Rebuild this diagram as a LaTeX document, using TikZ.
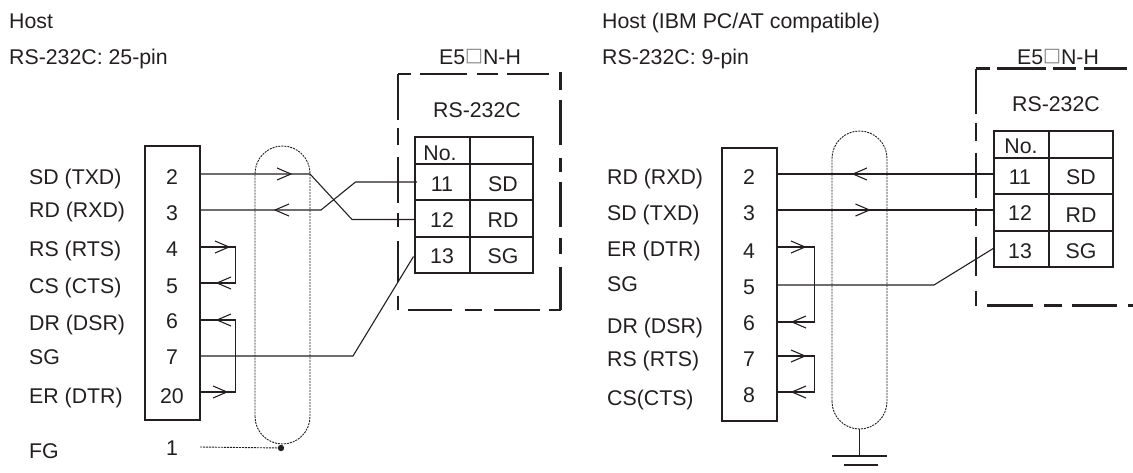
\documentclass[tikz,border=0pt]{standalone}
\usepackage{fontspec}
\setmainfont{Liberation Sans}
\newfontfamily\boxfont{DejaVu Sans}
\usepackage{tikz}
\definecolor{ink}{HTML}{231F20}
\newcommand{\sqmark}{{\color{gray}\boxfont\fontsize{19}{19}\selectfont\raisebox{0.12em}{\char"25A1}}}
\tikzset{
	lbl/.style = {anchor=base west, inner sep=0pt},
	pin/.style = {anchor=base, inner sep=0pt},
	hostbox/.style = {draw, line width=1.8pt, inner sep=0pt, minimum width=55pt},
	cellbox/.style = {line width=1.9pt},
	wire/.style = {line width=1.1pt},
	shield/.style = {line width=0.9pt, dash pattern=on 2pt off 1pt},
	casing/.style = {line width=2.1pt}
}

\begin{document}
\begin{tikzpicture}[x=1pt, y=-1pt, color=ink, font=\fontsize{21.3}{25}\selectfont]
	\useasboundingbox (0,0) rectangle (1133,472);

	% left: 25-pin
	\node [lbl] (hostA) at (9,28) {Host};
	\node [lbl] (typeA) at (9,64) {RS-232C: 25-pin};
	\node [pin] (modelA) at (480,64) {E5\sqmark N-H};
	\node [pin] (portA) at (477,117) {RS-232C};

	\draw [casing, dash pattern=on 46pt off 8pt on 17pt off 12pt on 46pt off 10pt on 14pt off 14pt on 41pt off 14pt on 14pt off 9pt] (398,74) -- (398,310);
	\draw [casing, dash pattern=on 13pt off 9pt on 47pt off 10pt on 21pt off 9pt on 42pt off 20pt] (398,74) -- (560.5,74);
	\draw [casing, dash pattern=on 44pt off 13pt on 17pt off 12pt on 46pt off 9pt on 12pt off 1pt] (408,310) -- (561,310);
	\draw [casing, dash pattern=on 43pt off 13pt on 16pt off 11pt on 45pt off 10pt on 14pt off 13pt on 45pt off 10pt on 18pt off 1pt] (560.5,310) -- (560.5,72);

	\node [hostbox, minimum height=274pt] (boxA) at (172.5,283) {};
	\foreach \num/\txt/\y in {2/SD (TXD)/184,3/RD (RXD)/217,4/RS (RTS)/256,5/CS (CTS)/293,6/DR (DSR)/330,7/SG/364,20/ER (DTR)/403,1/FG/458}
		\node [lbl] (nameA\num) at (29,\y) {\txt};
	\foreach \num/\y in {2/184,3/220,4/256,5/293,6/328,7/364,20/403,1/455}
		\node [pin] (pinA\num) at (172,\y) {\num};
	\foreach \num/\y in {2/174,3/210,4/247,5/283,6/320,7/356,20/392,1/447}
		\coordinate (wireA\num) at (200,\y);

	\draw [cellbox] (415,137) rectangle (533,273);
	\draw [cellbox] (470,137) -- (470,273);
	\foreach \y in {164,200,237}
		\draw [cellbox] (415,\y) -- (533,\y);
	\node [pin] (noA) at (440,160) {No.};
	\foreach \num/\txt/\y in {11/SD/191,12/RD/227,13/SG/263} {
		\node [pin] (cellA\num) at (442,\y) {\num};
		\node [pin] (sigA\num) at (503,\y) {\txt};
	}
	\coordinate (endA11) at (417,182);
	\coordinate (endA12) at (415,219.5);
	\coordinate (endA13) at (413.5,256.5);

	\draw [shield] (255,416.5) -- (255,173.5) arc [start angle=180, end angle=360, radius=27.5] -- (310,416.5) arc [start angle=0, end angle=180, radius=27.5];
	\draw [wire] (wireA2) -- (310,174) -- (352,219.5) -- (endA12);
	\draw [wire] (wireA3) -- (321,210) -- (355.5,182) -- (endA11);
	\draw [wire] (wireA4) -- (235.5,247) -- (235.5,283) -- (wireA5);
	\draw [wire] (wireA6) -- (235.5,320) -- (235.5,392) -- (wireA20);
	\draw [wire] (wireA7) -- (353,356) -- (endA13);
	\coordinate (dotA) at (281,448);
	\fill (dotA) circle (3.2);
	\draw [shield] (wireA1) -- (dotA);

	% right: 9-pin
	\node [lbl] (hostB) at (602,28) {Host (IBM PC/AT compatible)};
	\node [lbl] (typeB) at (602,64) {RS-232C: 9-pin};
	\node [pin] (modelB) at (1058,64) {E5\sqmark N-H};
	\node [pin] (portB) at (1056,111) {RS-232C};

	\draw [casing, dash pattern=on 45pt off 9pt on 18pt off 12pt on 45pt off 10pt on 18pt off 11pt on 39pt off 15pt on 16pt] (976,68.5) -- (976,306);
	\draw [casing, dash pattern=on 14pt off 7pt on 49pt off 7pt on 23pt off 8pt on 43pt off 7pt] (976,68.5) -- (1133,68.5);
	\draw [casing, dash pattern=on 46pt off 11pt on 18pt off 10pt on 45pt off 11pt] (987,305.5) -- (1133,305.5);

	\node [hostbox, minimum height=273pt] (boxB) at (749.5,284.5) {};
	\foreach \num/\txt/\y in {2/RD (RXD)/184,3/SD (TXD)/220,4/ER (DTR)/256,5/SG/291,6/DR (DSR)/333,7/RS (RTS)/366,8/CS(CTS)/405}
		\node [lbl] (nameB\num) at (607,\y) {\txt};
	\foreach \num/\y in {2/184,3/220,4/258,5/294,6/330,7/366,8/402}
		\node [pin] (pinB\num) at (749,\y) {\num};
	\foreach \num/\y in {2/174,3/210,4/247,5/285,6/322,7/356,8/392}
		\coordinate (wireB\num) at (777,\y);

	\draw [cellbox] (994,131) rectangle (1113,267);
	\draw [cellbox] (1049,131) -- (1049,267);
	\foreach \y in {158,194,231}
		\draw [cellbox] (994,\y) -- (1113,\y);
	\node [pin] (noB) at (1021,153) {No.};
	\foreach \num/\txt/\y/\z in {11/SD/184/184,12/RD/220/222,13/SG/258/258} {
		\node [pin] (cellB\num) at (1020,\y) {\num};
		\node [pin] (sigB\num) at (1081,\z) {\txt};
	}
	\coordinate (endB11) at (994,174);
	\coordinate (endB12) at (993,210);
	\coordinate (endB13) at (994,248);

	\draw [shield] (832,401.5) -- (832,158.5) arc [start angle=180, end angle=360, radius=27.5] -- (887,401.5) arc [start angle=0, end angle=180, radius=27.5];
	\draw [wire] (wireB2) -- (endB11);
	\draw [wire] (wireB3) -- (endB12);
	\draw [wire] (wireB4) -- (814.5,247) -- (814.5,322) -- (wireB6);
	\draw [wire] (wireB7) -- (814.5,356) -- (814.5,392) -- (wireB8);
	\draw [wire] (wireB5) -- (934,285) -- (endB13);

	\coordinate (gndB) at (859.5,456);
	\draw [wire] (859.5,429) -- (gndB);
	\draw [wire] (832,456) -- (887,456);
	\draw [wire] (844,465) -- (878,465);

	% arrow heads
	\foreach \x/\y in {291/174,229/247,227/392,869.5/210,805/247,805/356}
		\draw [wire] (\x-14,\y-6) -- (\x,\y) -- (\x-14,\y+6);
	\foreach \x/\y in {275/210,217/283,217/320,853/174,792/322,792/392}
		\draw [wire] (\x+14,\y-6) -- (\x,\y) -- (\x+14,\y+6);
\end{tikzpicture}
\end{document}
